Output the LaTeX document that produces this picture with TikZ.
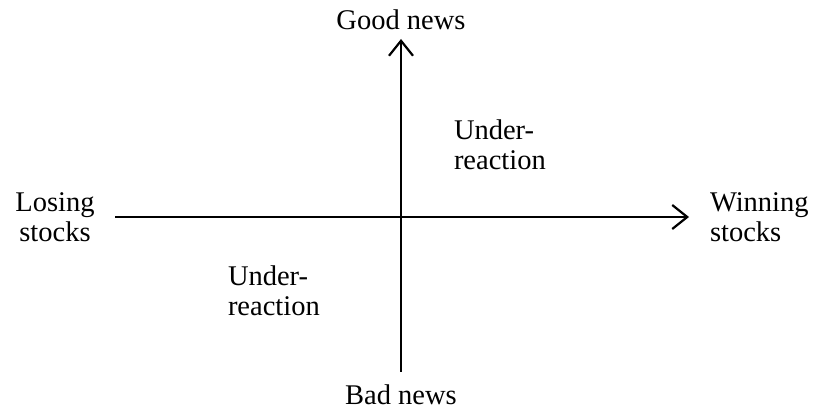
\documentclass[tikz,border=0pt]{standalone}
\usepackage{fontspec}
\setmainfont{Liberation Serif}
\usetikzlibrary{arrows.meta}

\begin{document}
\begin{tikzpicture}[x=1pt,y=-1pt,line width=2pt,
		lbl/.style={font=\fontsize{28.5}{30}\selectfont,inner sep=0pt},
		axis/.style={-{Straight Barb[length=15pt,width=24pt,line width=2.2pt]}}]
			\useasboundingbox (0,0) rectangle (814,411);
			\node[lbl] (good) at (401,20) {Good news};
			\node[lbl] (bad) at (401,395) {Bad news};
			\node[lbl,align=center] (losing) at (55,217) {Losing\\stocks};
			\node[lbl,align=left,anchor=west] (winning) at (709,217) {Winning\\stocks};
			\node[lbl,align=left,anchor=west] (upper) at (453,145) {Under-\\reaction};
			\node[lbl,align=left,anchor=west] (lower) at (227,291) {Under-\\reaction};
			% axis end points
			\coordinate (vtop) at (401,39);
			\coordinate (vbot) at (401,372);
			\coordinate (hleft) at (115,217);
			\coordinate (hright) at (689,217);
			\draw[axis] (vbot) -- (vtop);
			\draw[axis] (hleft) -- (hright);
		\end{tikzpicture}
\end{document}
